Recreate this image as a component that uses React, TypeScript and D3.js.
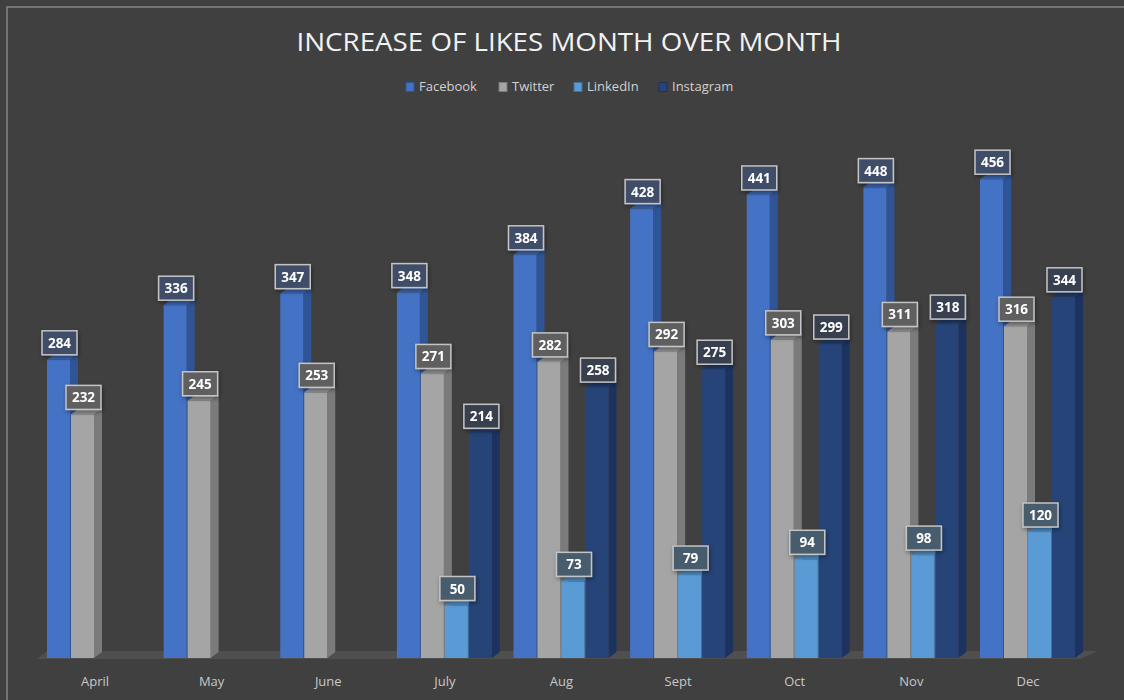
import * as d3 from "d3";

const months = ["April", "May", "June", "July", "Aug", "Sept", "Oct", "Nov", "Dec"];
const seriesNames = ["Facebook", "Twitter", "LinkedIn", "Instagram"];
const facebook = [284, 336, 347, 348, 384, 428, 441, 448, 456];
const twitter = [232, 245, 253, 271, 282, 292, 303, 311, 316];
const linkedin = [null, null, null, 50, 73, 79, 94, 98, 120];
const instagram = [null, null, null, 214, 258, 275, 299, 318, 344];

const frontColors = ["#4472c4", "#a5a5a5", "#5b9bd5", "#264478"];
const sideColors = ["#2f5597", "#7b7b7b", "#41719c", "#1c3360"];
const topColors = ["#3b65b0", "#929292", "#4f8cc4", "#213c6c"];

const WIDTH = 1124;
const HEIGHT = 700;
const BG = "#404040";
const DX = 8;
const DY = 6;

export default function App() {
  const values = [facebook, twitter, linkedin, instagram];

  const xScale = d3.scalePoint<string>().domain(months).range([95, 1028]);
  const subScale = d3.scaleBand<string>().domain(seriesNames).range([-48, 48]);
  const yScale = d3.scaleLinear().domain([0, 500]).range([658, 133]);

  const barW = subScale.bandwidth() - 1;
  const floorLeft = xScale(months[0])! - 58;
  const floorRight = xScale(months[months.length - 1])! + 52;
  const base = yScale(0);

  const legendX = [406, 499, 574, 659];

  return (
    <svg width={WIDTH} height={HEIGHT} style={{ position: "absolute", left: 0, top: 0 }}>
      <defs>
        <filter id="shadow" x="-30%" y="-30%" width="160%" height="160%">
          <feDropShadow dx="1" dy="2" stdDeviation="2" floodColor="#000" floodOpacity="0.4" />
        </filter>
      </defs>
      <rect width={WIDTH} height={HEIGHT} fill={BG} />
      <rect x={7} y={7} width={1140} height={720} fill="none" stroke="#858585" strokeWidth={1.5} />

      <text x={569} y={51} textAnchor="middle" fill="#f2f2f2"
        fontFamily="'Open Sans', sans-serif" fontWeight={400} fontSize={26}
        textLength={545} lengthAdjust="spacingAndGlyphs">
        INCREASE OF LIKES MONTH OVER MONTH
      </text>

      {seriesNames.map((s, i) => (
        <g key={s}>
          <rect x={legendX[i]} y={82.5} width={8} height={9} fill={frontColors[i]} stroke={sideColors[i]} strokeWidth={1} />
          <text x={legendX[i] + 13} y={91} fill="#d0d0d0" fontFamily="'Open Sans', sans-serif" fontSize={13}>
            {s}
          </text>
        </g>
      ))}

      {/* floor */}
      <polygon
        points={[
          [floorLeft, base + 1],
          [floorRight, base + 1],
          [floorRight + 18, base - 7],
          [floorLeft + 10, base - 7],
        ].map((p) => p.join(",")).join(" ")}
        fill="#4f4f4f"
      />

      {months.map((m, mi) => {
        const cx = xScale(m)!;
        return (
          <g key={m}>
            {seriesNames.map((s, si) => {
              const v = values[si][mi];
              if (v == null) return null;
              const x = cx + subScale(s)!;
              const top = yScale(v);
              return (
                <g key={s}>
                  <polygon
                    points={`${x + barW},${top} ${x + barW + DX},${top - DY} ${x + barW + DX},${base - DY} ${x + barW},${base}`}
                    fill={sideColors[si]}
                  />
                  <polygon
                    points={`${x},${top} ${x + barW},${top} ${x + barW + DX},${top - DY} ${x + DX},${top - DY}`}
                    fill={topColors[si]}
                  />
                  <rect x={x} y={top} width={barW} height={base - top} fill={frontColors[si]} />
                </g>
              );
            })}
            <text x={cx} y={686} textAnchor="middle" fill="#c8c8c8"
              fontFamily="'Open Sans', sans-serif" fontSize={13}>
              {m}
            </text>
          </g>
        );
      })}

      {/* data labels */}
      {months.map((m, mi) =>
        seriesNames.map((s, si) => {
          const v = values[si][mi];
          if (v == null) return null;
          const x = xScale(m)! + subScale(s)! + barW / 2 + 1;
          const top = yScale(v);
          return (
            <g key={m + s} filter="url(#shadow)">
              <rect x={x - 17.5} y={top - 29} width={35} height={24} fill={BG} />
              <rect x={x - 17.5} y={top - 29} width={35} height={24} fill={frontColors[si]} fillOpacity={0.3}
                stroke="#c4c4c4" strokeWidth={1.5} />
              <text x={x} y={top - 12} textAnchor="middle" fill="#ffffff"
                fontFamily="'Open Sans', sans-serif" fontWeight={700} fontSize={13.5}>
                {v}
              </text>
            </g>
          );
        })
      )}
    </svg>
  );
}
